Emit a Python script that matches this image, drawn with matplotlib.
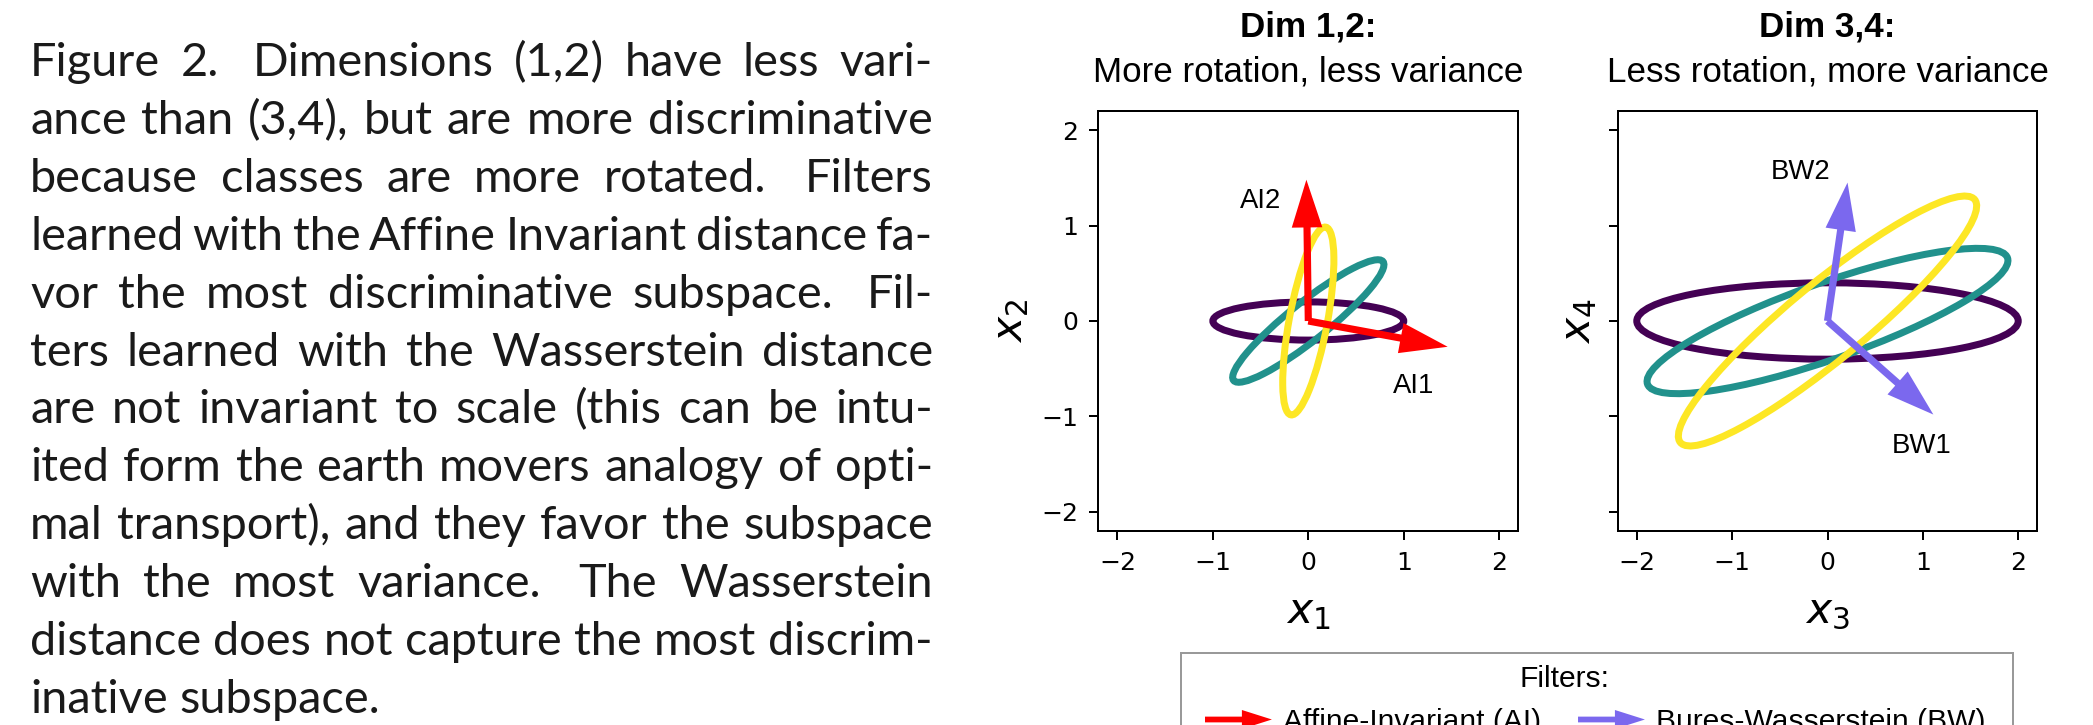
import re
import matplotlib
matplotlib.use("Agg")
import matplotlib.pyplot as plt
from matplotlib.patches import Ellipse, FancyArrow
from matplotlib.legend_handler import HandlerPatch

# ---------------- data ----------------
ticks = [-2, -1, 0, 1, 2]
class_colors = ["#440154", "#21918c", "#fde725"]

# ellipse (class covariance) parameters: semi-axes and rotation in degrees
dim12_semi_major = [1.0, 1.0, 1.0]
dim12_semi_minor = [0.2, 0.2, 0.2]
dim12_angle_deg = [0.0, 38.5, 79.5]
dim34_semi_major = [2.0, 2.0, 2.0]
dim34_semi_minor = [0.4, 0.4, 0.4]
dim34_angle_deg = [0.0, 19.3, 39.5]

# learned filters (arrow vectors)
ai_names = ["AI1", "AI2"]
ai_dx = [1.46, -0.02]
ai_dy = [-0.27, 1.48]
bw_names = ["BW1", "BW2"]
bw_dx = [1.11, 0.21]
bw_dy = [-0.98, 1.45]

panel_titles = ["Dim 1,2:", "Dim 3,4:"]
panel_subtitles = ["More rotation, less variance", "Less rotation, more variance"]
x_labels = [r"$x_1$", r"$x_3$"]
y_labels = [r"$x_2$", r"$x_4$"]
legend_title = "Filters:"
legend_labels = ["Affine-Invariant (AI)", "Bures-Wasserstein (BW)"]

caption_lines = [
    "Figure 2.  Dimensions (1,2) have less vari-",
    "ance than (3,4), but are more discriminative",
    "because classes are more rotated.  Filters",
    "learned with the Affine Invariant distance fa-",
    "vor the most discriminative subspace.  Fil-",
    "ters learned with the Wasserstein distance",
    "are not invariant to scale (this can be intu-",
    "ited form the earth movers analogy of opti-",
    "mal transport), and they favor the subspace",
    "with the most variance.  The Wasserstein",
    "distance does not capture the most discrim-",
    "inative subspace.",
]

# ---------------- figure ----------------
W, H = 2093, 725
DPI = 180
fig = plt.figure(figsize=(W / DPI, H / DPI), dpi=DPI)
fig.patch.set_facecolor("white")

SANS = ["Liberation Sans", "DejaVu Sans"]


def px_axes(l, t, r, b):
    return fig.add_axes([l / W, 1 - b / H, (r - l) / W, (b - t) / H])


ax1 = px_axes(1098.3, 111, 1518.3, 531)
ax2 = px_axes(1617.7, 111, 2037.3, 531)

panels = [
    (ax1, dim12_semi_major, dim12_semi_minor, dim12_angle_deg,
     ai_names, ai_dx, ai_dy, "red"),
    (ax2, dim34_semi_major, dim34_semi_minor, dim34_angle_deg,
     bw_names, bw_dx, bw_dy, "mediumslateblue"),
]

label_pos = {
    "AI1": (1.107, -0.755), "AI2": (-0.495, 1.185),
    "BW1": (0.988, -1.382), "BW2": (-0.284, 1.485),
}

for i, (ax, A, B, ang, names, dxs, dys, col) in enumerate(panels):
    for a, b, t, c in zip(A, B, ang, class_colors):
        ax.add_patch(Ellipse((0, 0), 2 * a, 2 * b, angle=t, fill=False,
                             edgecolor=c, linewidth=2.8, zorder=2))
    for n, dx, dy in zip(names, dxs, dys):
        ax.add_patch(FancyArrow(0, 0, dx, dy, width=0.075, head_width=0.32,
                                head_length=0.5, length_includes_head=True,
                                facecolor=col, edgecolor="none", linewidth=0,
                                zorder=3))
        lx, ly = label_pos[n]
        ax.text(lx, ly, n, ha="center", va="baseline", fontsize=11,
                family=SANS, color="black", zorder=4)
    ax.set_xlim(-2.2, 2.2)
    ax.set_ylim(-2.2, 2.2)
    ax.set_xticks(ticks)
    ax.set_yticks(ticks)
    ax.tick_params(axis="both", labelsize=10, length=3.6, width=0.8)
    ax.tick_params(axis="x", pad=4.6)
    ax.tick_params(axis="y", pad=4.4)
    if i == 1:
        ax.tick_params(axis="y", labelleft=False)
    ax.set_xlabel(x_labels[i], fontsize=17, labelpad=6)
    ax.set_ylabel(y_labels[i], fontsize=17, labelpad=4)
    ax.text(0.5, 1 + 29 / 420, panel_subtitles[i], transform=ax.transAxes,
            ha="center", va="baseline", fontsize=14, family=SANS)
    ax.text(0.5, 1 + 74 / 420, panel_titles[i], transform=ax.transAxes,
            ha="center", va="baseline", fontsize=14, fontweight="bold",
            family=SANS)


# ---------------- legend ----------------
def make_legend_arrow(legend, orig_handle, xdescent, ydescent, width, height,
                      fontsize):
    x0 = 4.8
    return FancyArrow(x0, 0.5 * height, width - x0, 0, width=2.3,
                      head_width=7.6, head_length=12,
                      length_includes_head=True)


leg_handles = [
    FancyArrow(0, 0, 1, 0, facecolor="red", edgecolor="none", linewidth=0),
    FancyArrow(0, 0, 1, 0, facecolor="mediumslateblue", edgecolor="none",
               linewidth=0),
]
leg = fig.legend(
    leg_handles, legend_labels,
    handler_map={FancyArrow: HandlerPatch(patch_func=make_legend_arrow)},
    ncol=2, loc="upper left", bbox_to_anchor=(1181 / W, 1 - 653 / H),
    bbox_transform=fig.transFigure, borderaxespad=0, borderpad=0.4,
    title=legend_title,
    title_fontproperties={"family": SANS, "size": 12},
    prop={"family": SANS, "size": 12},
    handlelength=2.63, handleheight=0.7, handletextpad=0.37,
    columnspacing=0.83, fancybox=False, framealpha=1, edgecolor="0.6",
)
leg.get_frame().set_linewidth(0.8)
# widen the legend box to the reference frame width (832 px incl. padding)
try:
    leg.set_alignment("left")
    leg._legend_box.width = 832 - 2 * 0.4 * 12 * DPI / 72
except Exception:
    pass

# ---------------- caption (justified) ----------------
fig.canvas.draw()
renderer = fig.canvas.get_renderer()

CAP_FAMILY = ["Lato", "DejaVu Sans"]
LEFT, RIGHT = 30.0, 933.0
BASE0, STEP = 76.0, 57.9
LAST_LINE_WIDTH = 351.0   # width of the final (left-aligned) caption line


def width_of(t):
    return t.get_window_extent(renderer).width


# choose the caption size so that the final line has the reference width
probe = fig.text(0, 0, caption_lines[-1], family=CAP_FAMILY,
                 fontweight="normal", fontsize=16.8)
cap_size = 16.8 * LAST_LINE_WIDTH / width_of(probe)
probe.remove()

CAP_KW = dict(family=CAP_FAMILY, fontweight="normal", fontsize=cap_size,
              va="baseline", ha="left", color="#1a1a1a")

probe1 = fig.text(0, 0, "a a", **CAP_KW)
probe2 = fig.text(0, 0, "aa", **CAP_KW)
space_w = width_of(probe1) - width_of(probe2)
probe1.remove()
probe2.remove()

for li, line in enumerate(caption_lines):
    y = 1 - (BASE0 + li * STEP) / H
    parts = re.split(r"( +)", line)
    words = parts[0::2]
    gaps = [len(g) for g in parts[1::2]]
    weights = [1.7 if g >= 2 else 1.0 for g in gaps]
    texts = [fig.text(LEFT / W, y, w, **CAP_KW) for w in words]
    widths = [width_of(t) for t in texts]
    last = li == len(caption_lines) - 1
    if last or len(words) == 1:
        unit = space_w
    else:
        unit = (RIGHT - LEFT - sum(widths)) / sum(weights)
    x = LEFT
    for k, (t, w) in enumerate(zip(texts, widths)):
        t.set_x(x / W)
        x += w
        if k < len(weights):
            x += unit * weights[k]

# shift legend title to match reference placement
fig.canvas.draw()
tb = leg.get_title().get_window_extent(renderer)
shift = 1565 - 0.5 * (tb.x0 + tb.x1)
leg.get_title().set_position((shift, 0))

fig.savefig("out.png", dpi=DPI, facecolor="white")
